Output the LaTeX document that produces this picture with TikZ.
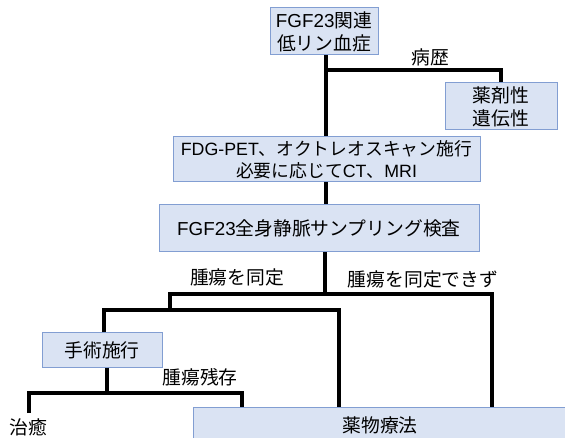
\documentclass[tikz,border=0pt]{standalone}
\usepackage{fontspec}
\setmainfont{Noto Sans CJK JP}
\newfontfamily\ar{Liberation Sans}
\definecolor{boxfill}{RGB}{218,227,243}
\definecolor{boxdraw}{RGB}{130,158,210}
\begin{document}
\begin{tikzpicture}[x=1pt,y=-1pt,
  box/.style={draw=boxdraw, fill=boxfill, line width=1pt, align=center, inner sep=0pt, font=\fontsize{18.8}{23}\selectfont},
  lbl/.style={font=\fontsize{18.8}{23}\selectfont, inner sep=0pt},
  conn/.style={line width=3.3pt, line join=miter}]
\useasboundingbox (0,0) rectangle (565,438);
\fill[white] (0,0) rectangle (565,438);
% boxes
\node[box, minimum width=108, minimum height=47] (b1) at (324,31.5) {{\ar FGF23}関連\\低リン血症};
\node[box, minimum width=112, minimum height=47] (b2) at (501,106.5) {薬剤性\\遺伝性};
\node[box, minimum width=307, minimum height=45, font=\fontsize{17.8}{22}\selectfont] (b3) at (326.5,159.5) {{\ar FDG-PET}、オクトレオスキャン施行\\必要に応じて{\ar CT}、{\ar MRI}};
\node[box, minimum width=320, minimum height=47] (b4) at (319,228.5) {{\ar FGF23}全身静脈サンプリング検査};
\node[box, minimum width=120, minimum height=34] (b5) at (102,350) {手術施行};
\node[box, minimum width=374, minimum height=36] (b6) at (380,425) {薬物療法};
\node[lbl] (cure) at (28,427) {治癒};
% labels
\node[lbl] (l1) at (430,57) {病歴};
\node[lbl] (l2) at (237,277) {腫瘍を同定};
\node[lbl] (l3) at (423,279) {腫瘍を同定できず};
\node[lbl] (l4) at (200,377) {腫瘍残存};
% junctions
\coordinate (j1) at (326,70);
\coordinate (j2) at (325,294);
\coordinate (j3) at (492,294);
\coordinate (j4) at (170,294);
\coordinate (j5) at (170,310);
\coordinate (j6) at (104,310);
\coordinate (j7) at (339,310);
\coordinate (j8) at (107,393);
\coordinate (j9) at (29,393);
\coordinate (j10) at (242,393);
\coordinate (c1) at (29,413);
% connectors
\draw[conn] (b1.south -| j1) -- (b3.north -| j1);
\draw[conn] (j1) -| (b2.north);
\draw[conn] (b3.south -| j1) -- (b4.north -| j1);
\draw[conn] (b4.south -| j2) -- (j2);
\draw[conn] (j5) -- (j4) -- (j3) -- (b6.north -| j3);
\draw[conn] (b5.north -| j6) -- (j6) -- (j7) -- (b6.north -| j7);
\draw[conn] (b5.south -| j8) -- (j8);
\draw[conn] (c1) -- (j9) -- (j10) -- (b6.north -| j10);
\end{tikzpicture}
\end{document}
